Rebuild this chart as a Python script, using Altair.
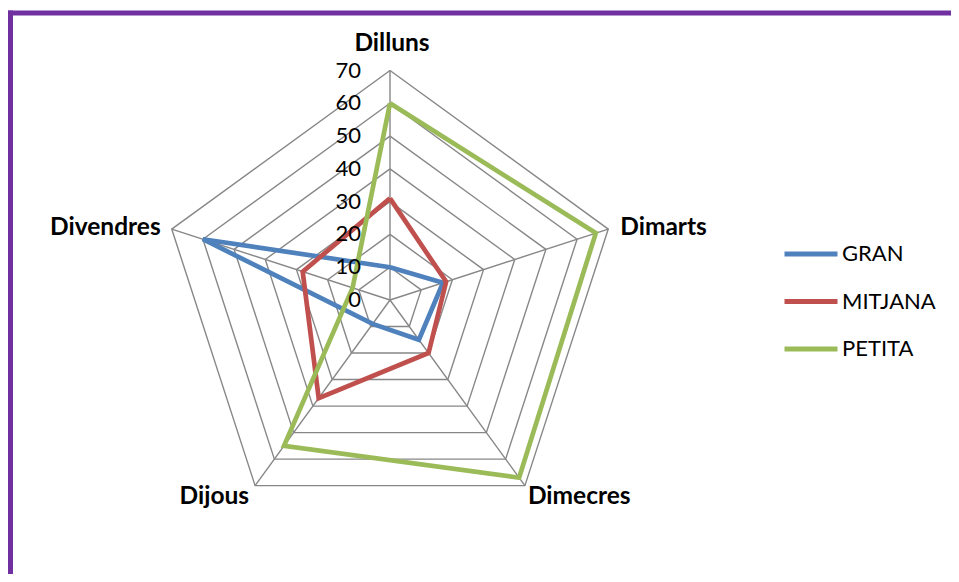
import altair as alt
import pandas as pd

# ---- data ----
days = ["Dilluns", "Dimarts", "Dimecres", "Dijous", "Divendres"]
series_names = ["GRAN", "MITJANA", "PETITA"]
gran = [10, 17, 15, 9, 60]
mitjana = [31, 18, 20, 37, 28]
petita = [60, 66, 67, 55, 12]
ticks = [0, 10, 20, 30, 40, 50, 60, 70]
colors = ["#4F81BD", "#C0504D", "#9BBB59"]

# ---- layout ----
W, H = 943, 566
CX, CY = 382, 292          # centre of the radar in view pixels
R = 229.5                  # pixel radius of the 70 ring
RMAX = 70
k = R / RMAX
xdom = [-CX / k, (W - CX) / k]
ydom = [-(H - CY) / k, CY / k]
FONT = "Lato"

# ---- tables ----
rows = []
for name, vals in zip(series_names, [gran, mitjana, petita]):
    for j in range(len(days) + 1):
        i = j % len(days)
        rows.append({"series": name, "day": days[i], "idx": i, "ord": j, "value": vals[i]})
series_df = pd.DataFrame(rows)

grid_rows = []
for lv in ticks[1:]:
    for j in range(len(days) + 1):
        grid_rows.append({"level": lv, "idx": j % len(days), "ord": j, "value": lv})
grid_df = pd.DataFrame(grid_rows)

spoke_df = pd.DataFrame({"idx": list(range(len(days))), "value": [RMAX] * len(days)})
tick_df = pd.DataFrame({"value": ticks})
label_df = pd.DataFrame({"day": days, "idx": list(range(len(days))), "value": [RMAX] * len(days)})

xs = alt.Scale(domain=xdom, nice=False, zero=False)
ys = alt.Scale(domain=ydom, nice=False, zero=False)

px = "datum.value * sin(datum.idx * 2 * PI / 5)"
py = "datum.value * cos(datum.idx * 2 * PI / 5)"

grid = alt.Chart(grid_df).transform_calculate(px=px, py=py).mark_line(
    color="#878787", strokeWidth=1.4
).encode(
    x=alt.X("px:Q", scale=xs, axis=None),
    y=alt.Y("py:Q", scale=ys, axis=None),
    detail="level:N",
    order="ord:Q",
)

spokes = alt.Chart(spoke_df).transform_calculate(px=px, py=py, zx="0", zy="0").mark_rule(
    color="#878787", strokeWidth=1.4
).encode(
    x=alt.X("zx:Q", scale=xs, axis=None),
    y=alt.Y("zy:Q", scale=ys, axis=None),
    x2="px:Q",
    y2="py:Q",
)

lines = alt.Chart(series_df).transform_calculate(px=px, py=py).mark_line(
    strokeWidth=4.7, strokeJoin="miter"
).encode(
    x=alt.X("px:Q", scale=xs, axis=None),
    y=alt.Y("py:Q", scale=ys, axis=None),
    color=alt.Color(
        "series:N",
        scale=alt.Scale(domain=series_names, range=colors),
        legend=alt.Legend(
            title=None,
            orient="none",
            legendX=774,
            legendY=217,
            symbolType="stroke",
            symbolSize=2809,
            symbolStrokeWidth=5,
            labelFontSize=22,
            labelFont=FONT,
            labelColor="#000000",
            labelOffset=2,
            rowPadding=7.5,
            padding=0,
        ),
    ),
    order="ord:Q",
)

tick_labels = alt.Chart(tick_df).transform_calculate(zx="0").mark_text(
    align="right", baseline="middle", dx=-29, fontSize=22, font=FONT, color="#000000"
).encode(
    x=alt.X("zx:Q", scale=xs, axis=None),
    y=alt.Y("value:Q", scale=ys, axis=None),
    text="value:Q",
)

def day_label(idx_list, align, dx, dy):
    return alt.Chart(label_df).transform_filter(
        alt.FieldOneOfPredicate(field="idx", oneOf=idx_list)
    ).transform_calculate(px=px, py=py).mark_text(
        align=align, baseline="middle", dx=dx, dy=dy,
        fontSize=24.5, fontWeight="bold", font=FONT, color="#000000"
    ).encode(
        x=alt.X("px:Q", scale=xs, axis=None),
        y=alt.Y("py:Q", scale=ys, axis=None),
        text="day:N",
    )

lab_top = day_label([0], "center", 2, -27)
lab_right = day_label([1], "left", 12, -1)
lab_bottom_r = day_label([2], "left", 3, 11)
lab_bottom_l = day_label([3], "right", -6, 11)
lab_left = day_label([4], "right", -11, -1)

one = pd.DataFrame({"a": [0]})
frame_top = alt.Chart(one).mark_rule(
    stroke="#7030A0", strokeWidth=5, strokeCap="square"
).encode(x=alt.value(2.5), x2=alt.value(W + 40), y=alt.value(5))
frame_left = alt.Chart(one).mark_rule(
    stroke="#7030A0", strokeWidth=5, strokeCap="square"
).encode(x=alt.value(2.5), y=alt.value(5), y2=alt.value(H + 40))

chart = alt.layer(
    frame_top, frame_left, grid, spokes, lines, tick_labels,
    lab_top, lab_right, lab_bottom_r, lab_bottom_l, lab_left
).properties(
    width=W, height=H, padding=0,
    autosize=alt.AutoSizeParams(type="none"),
    background="#FFFFFF",
).configure_view(stroke=None)

chart.save("out.html", embed_options={"renderer": "svg", "actions": False})
